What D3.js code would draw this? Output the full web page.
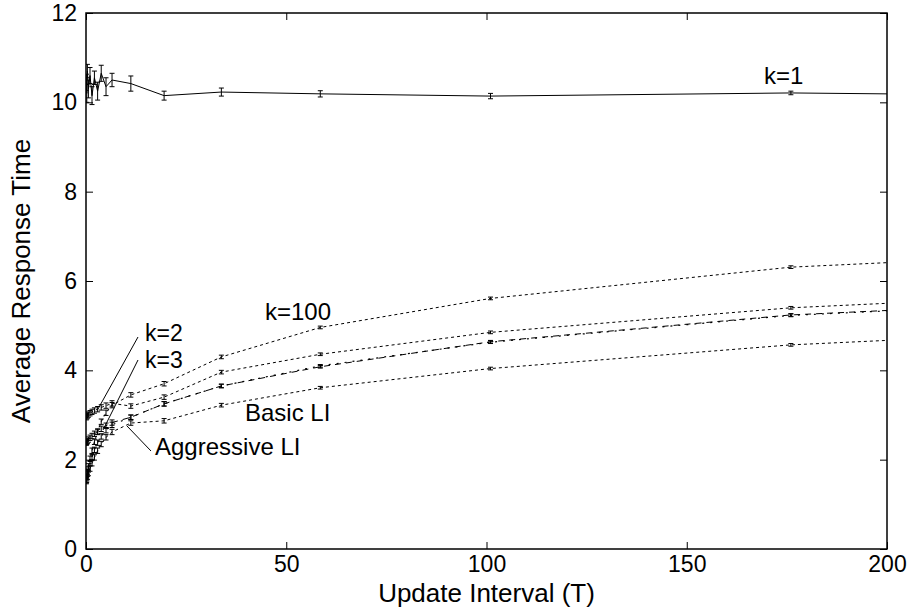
<!DOCTYPE html>
<html>
<head>
<meta charset="utf-8">
<script src="https://cdn.jsdelivr.net/npm/d3@7/dist/d3.min.js"></script>
<style>
  html, body { margin: 0; padding: 0; background: #fff; }
  svg { display: block; }
  text { font-family: "Liberation Sans", Arial, Helvetica, sans-serif; fill: #000; }
</style>
</head>
<body>
<svg id="chart" width="910" height="611"></svg>
<script>
// Update intervals (T) at which each configuration was simulated
const intervals = [0.1, 0.2, 0.35, 0.6, 1.0, 1.5, 2.1, 2.9, 3.8, 5.0, 6.5, 11.2, 19.5, 33.8, 58.5, 101, 176, 305];

// Average response time per configuration
const k1 = [10.45, 10.2, 10.7, 10.3, 10.6, 10.15, 10.55, 10.25, 10.65, 10.35, 10.5, 10.42, 10.15, 10.23, 10.19, 10.14, 10.21, 10.10];
const k1Err = [0.18, 0.2, 0.15, 0.2, 0.18, 0.2, 0.15, 0.2, 0.18, 0.2, 0.15, 0.17, 0.1, 0.09, 0.07, 0.06, 0.04, 0.04];

const k2 = [2.95, 2.97, 2.99, 3.01, 3.04, 3.07, 3.10, 3.13, 3.17, 3.21, 3.26, 3.20, 3.40, 3.96, 4.36, 4.85, 5.40, 5.94];
const k3 = [2.38, 2.40, 2.42, 2.45, 2.49, 2.53, 2.58, 2.63, 2.69, 2.76, 2.83, 2.95, 3.25, 3.65, 4.08, 4.64, 5.24, 5.78];
const k100 = [1.55, 1.62, 1.72, 1.85, 2.02, 2.20, 2.40, 2.62, 2.85, 3.05, 3.22, 3.45, 3.70, 4.30, 4.96, 5.61, 6.31, 6.85];
const basicLI = [1.52, 1.56, 1.62, 1.70, 1.80, 1.92, 2.05, 2.20, 2.35, 2.50, 2.62, 2.82, 2.87, 3.22, 3.61, 4.04, 4.57, 5.11];
const aggressiveLI = [1.54, 1.60, 1.68, 1.78, 1.92, 2.06, 2.22, 2.38, 2.52, 2.66, 2.78, 2.95, 3.25, 3.65, 4.10, 4.63, 5.23, 5.77];
const smallErr = [0.06, 0.06, 0.06, 0.06, 0.06, 0.06, 0.06, 0.06, 0.06, 0.06, 0.06, 0.05, 0.05, 0.04, 0.03, 0.03, 0.03, 0.03];

// Axis ticks
const xTicks = [0, 50, 100, 150, 200];
const yTicks = [0, 2, 4, 6, 8, 10, 12];

const svg = d3.select("#chart");
const plotLeft = 86, plotRight = 887, plotTop = 13, plotBottom = 549;

const x = d3.scaleLinear().domain([0, 200]).range([plotLeft, plotRight]);
const y = d3.scaleLinear().domain([0, 12]).range([plotBottom, plotTop]);

svg.append("defs").append("clipPath").attr("id", "plot-clip")
  .append("rect").attr("x", plotLeft).attr("y", plotTop)
  .attr("width", plotRight - plotLeft).attr("height", plotBottom - plotTop);

// Axes with inward ticks, mirrored on top and right
const tickLen = 7;
const gx = svg.append("g").attr("transform", `translate(0,${plotBottom})`)
  .call(d3.axisBottom(x).tickValues(xTicks).tickSize(-tickLen).tickPadding(7));
const gy = svg.append("g").attr("transform", `translate(${plotLeft},0)`)
  .call(d3.axisLeft(y).tickValues(yTicks).tickSize(-tickLen).tickPadding(9));
const gxt = svg.append("g").attr("transform", `translate(0,${plotTop})`)
  .call(d3.axisTop(x).tickValues(xTicks).tickSize(-tickLen).tickFormat(""));
const gyr = svg.append("g").attr("transform", `translate(${plotRight},0)`)
  .call(d3.axisRight(y).tickValues(yTicks).tickSize(-tickLen).tickFormat(""));

[gx, gy, gxt, gyr].forEach(g => {
  g.select(".domain").remove();
  g.selectAll(".tick line").attr("stroke", "#000").attr("stroke-width", 1);
  g.selectAll(".tick text").attr("font-size", 23).attr("fill", "#000")
    .style("font-family", '"Liberation Sans", Arial, sans-serif');
});

svg.append("rect").attr("x", plotLeft).attr("y", plotTop)
  .attr("width", plotRight - plotLeft).attr("height", plotBottom - plotTop)
  .attr("fill", "none").attr("stroke", "#000").attr("stroke-width", 1.5);

// Axis titles
svg.append("text").attr("x", (plotLeft + plotRight) / 2).attr("y", 602)
  .attr("text-anchor", "middle").attr("font-size", 26).text("Update Interval (T)");
svg.append("text").attr("transform", "translate(30,281) rotate(-90)")
  .attr("text-anchor", "middle").attr("font-size", 26).text("Average Response Time");

// Series
const series = [
  { name: "k=1", values: k1, err: k1Err, dash: null, width: 1 },
  { name: "k=100", values: k100, err: smallErr, dash: "3,3", width: 1 },
  { name: "k=2", values: k2, err: smallErr, dash: "3,3", width: 1 },
  { name: "k=3", values: k3, err: smallErr, dash: "6,5", width: 1 },
  { name: "Aggressive LI", values: aggressiveLI, err: smallErr, dash: "2,6", width: 1.2 },
  { name: "Basic LI", values: basicLI, err: smallErr, dash: "3,3", width: 1 }
];

const plot = svg.append("g").attr("clip-path", "url(#plot-clip)");
const line = d3.line().x((d, i) => x(intervals[i])).y(d => y(d));

series.forEach(s => {
  plot.append("path").datum(s.values)
    .attr("d", line).attr("fill", "none").attr("stroke", "#000")
    .attr("stroke-width", s.width).attr("stroke-dasharray", s.dash);
  const bars = plot.append("g").selectAll("g").data(s.values).join("g");
  bars.append("line")
    .attr("x1", (d, i) => x(intervals[i])).attr("x2", (d, i) => x(intervals[i]))
    .attr("y1", (d, i) => y(d - s.err[i])).attr("y2", (d, i) => y(d + s.err[i]))
    .attr("stroke", "#000").attr("stroke-width", 1);
  [-1, 1].forEach(sign => {
    bars.append("line")
      .attr("x1", (d, i) => x(intervals[i]) - 2.5).attr("x2", (d, i) => x(intervals[i]) + 2.5)
      .attr("y1", (d, i) => y(d + sign * s.err[i])).attr("y2", (d, i) => y(d + sign * s.err[i]))
      .attr("stroke", "#000").attr("stroke-width", 1);
  });
});

// Series labels and leader lines
const labels = [
  { text: "k=1", x: 764, y: 84, size: 24 },
  { text: "k=100", x: 265, y: 320, size: 24 },
  { text: "k=2", x: 145, y: 341, size: 23 },
  { text: "k=3", x: 145, y: 368, size: 23 },
  { text: "Basic LI", x: 245, y: 421, size: 24 },
  { text: "Aggressive LI", x: 155, y: 455, size: 24 }
];
svg.append("g").selectAll("text").data(labels).join("text")
  .attr("x", d => d.x).attr("y", d => d.y).attr("font-size", d => d.size).text(d => d.text);

const leaders = [
  [138, 337, 98, 409],
  [138, 360, 103, 430],
  [151, 451, 127, 426]
];
svg.append("g").selectAll("line").data(leaders).join("line")
  .attr("x1", d => d[0]).attr("y1", d => d[1]).attr("x2", d => d[2]).attr("y2", d => d[3])
  .attr("stroke", "#000").attr("stroke-width", 1);
</script>
</body>
</html>
